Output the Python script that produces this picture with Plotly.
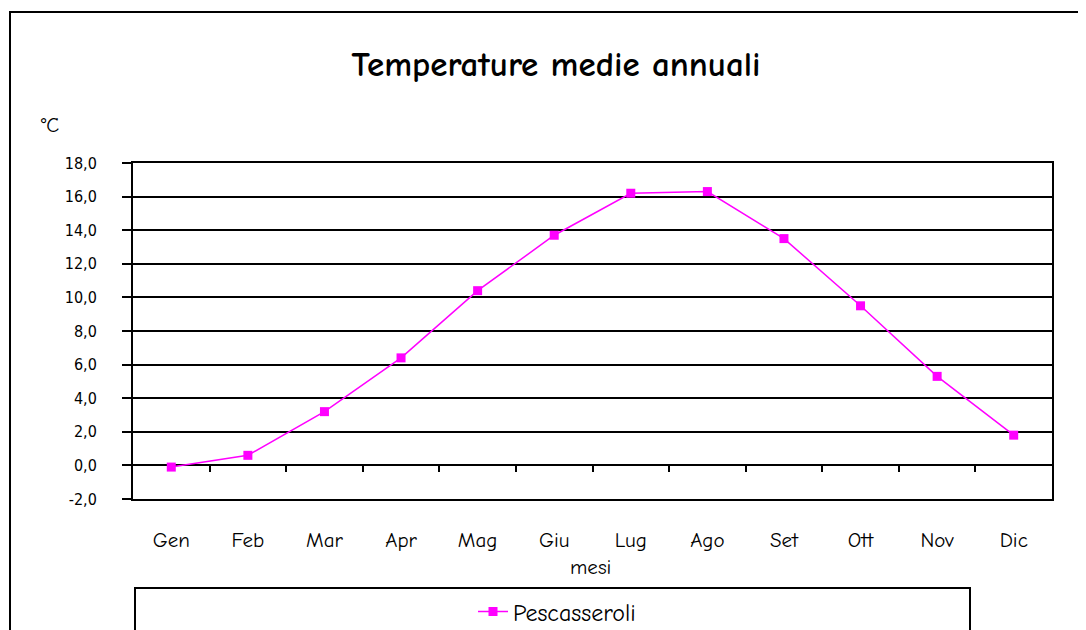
import plotly.graph_objects as go

months = ["Gen", "Feb", "Mar", "Apr", "Mag", "Giu", "Lug", "Ago", "Set", "Ott", "Nov", "Dic"]
temps = [-0.1, 0.6, 3.2, 6.4, 10.4, 13.7, 16.2, 16.3, 13.5, 9.5, 5.3, 1.8]
series_name = "Pescasseroli"
y_ticks = [-2, 0, 2, 4, 6, 8, 10, 12, 14, 16, 18]

W, H = 1086, 630
OFF = 8  # page body margin compensation
L, R, T, B = 133 - OFF, 1052 - OFF, 163 - OFF, 499 - OFF
pw, ph = R - L, B - T

def px(x):
    return (x - OFF - L) / pw

def py(y):
    return (B - (y - OFF)) / ph

comic = "Comic Sans MS, Comic Neue, Lato, DejaVu Sans, sans-serif"
verd = "Verdana, DejaVu Sans Condensed, DejaVu Sans, sans-serif"

xpos = list(range(1, len(months) + 1))

fig = go.Figure()
fig.add_trace(go.Scatter(
    x=xpos, y=temps, name=series_name, mode="lines+markers",
    line=dict(color="#FF00FF", width=1.5),
    marker=dict(symbol="square", size=9, color="#FF00FF"),
))
fig.add_trace(go.Scatter(x=[0.5, 12.5], y=[0, 0], xaxis="x2", mode="markers",
                         marker=dict(opacity=0), showlegend=False, hoverinfo="skip"))

fig.update_layout(
    width=W, height=H,
    margin=dict(l=L, r=W - R, t=T, b=H - B, autoexpand=False),
    paper_bgcolor="white", plot_bgcolor="white",
    separators=",.",
    title=dict(text="<b>Temperature medie annuali</b>", x=(556 - OFF) / W, xanchor="center",
               y=1 - (64 - OFF) / H, yanchor="middle", font=dict(family=comic, size=35, color="black")),
    xaxis=dict(range=[0.5, 12.5], tickvals=xpos, ticktext=months, showgrid=False,
               zeroline=False, showline=True, linecolor="black", linewidth=2, mirror=True,
               ticks="", ticklabelstandoff=21,
               tickfont=dict(family=comic, size=21, color="black")),
    xaxis2=dict(range=[0.5, 12.5], overlaying="x", anchor="free", position=0.1, side="bottom",
                tickvals=[i + 0.5 for i in range(1, 12)], showticklabels=False,
                ticks="outside", ticklen=6, tickwidth=1.5, tickcolor="black",
                showgrid=False, zeroline=False, showline=False),
    yaxis=dict(range=[-2, 18], tickvals=y_ticks, ticktext=[f"{v:.1f}".replace(".", ",") for v in y_ticks],
               showgrid=True,
               gridcolor="black", gridwidth=1.5, zeroline=True, zerolinecolor="black",
               zerolinewidth=1.5, showline=True, linecolor="black", linewidth=2, mirror=True,
               ticks="outside", ticklen=9, tickwidth=1.5, tickcolor="black",
               ticklabelstandoff=22,
               tickfont=dict(family=verd, size=16, color="black")),
    showlegend=True,
    legend=dict(x=px(557), xanchor="center", y=py(612), yanchor="middle",
                orientation="h", bgcolor="rgba(0,0,0,0)",
                font=dict(family=comic, size=24, color="black")),
    annotations=[
        dict(text="°C", x=px(49), y=py(125), xref="paper", yref="paper", showarrow=False,
             font=dict(family=comic, size=21, color="black"), xanchor="center", yanchor="middle"),
        dict(text="mesi", x=px(590), y=py(567), xref="paper", yref="paper", showarrow=False,
             font=dict(family=comic, size=21, color="black"), xanchor="center", yanchor="middle"),
    ],
    shapes=[
        dict(type="rect", xref="paper", yref="paper", x0=px(10), x1=px(1110), y0=py(660), y1=py(12),
             line=dict(color="black", width=2), fillcolor="rgba(0,0,0,0)", layer="below"),
        dict(type="rect", xref="paper", yref="paper", x0=px(135), x1=px(970), y0=py(660), y1=py(588),
             line=dict(color="black", width=2), fillcolor="rgba(0,0,0,0)", layer="below"),
    ],
)

fig.write_html("out.html")
